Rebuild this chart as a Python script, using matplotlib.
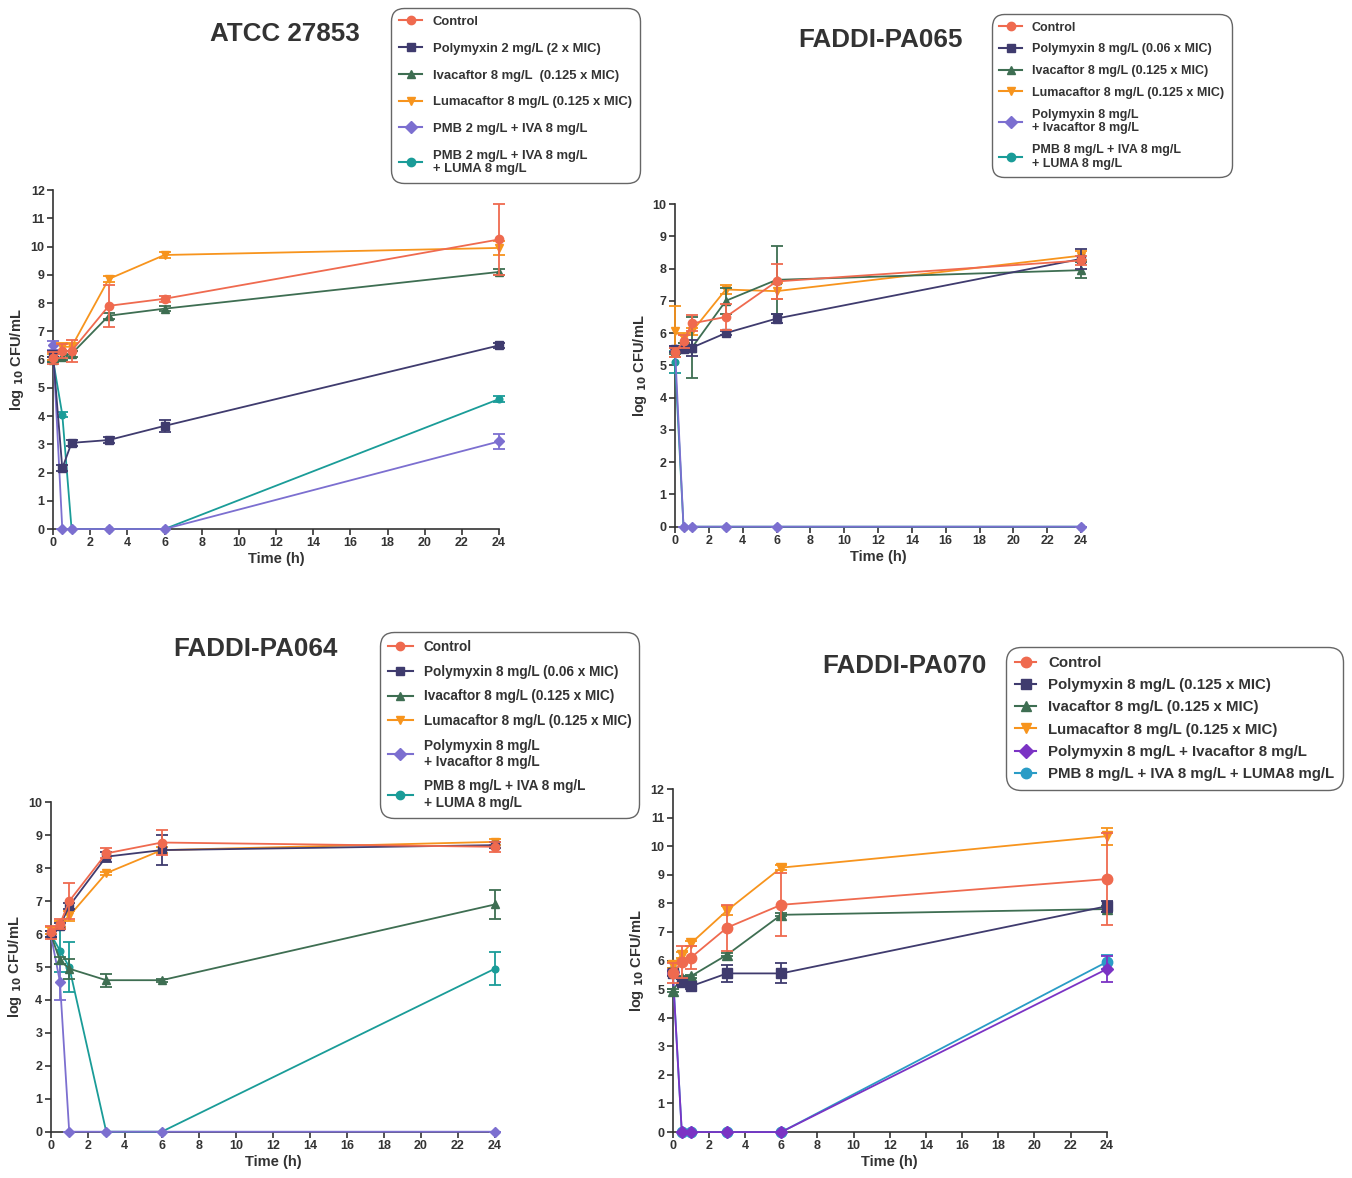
import numpy as np
import matplotlib
matplotlib.use('Agg')
import matplotlib.pyplot as plt
from matplotlib.lines import Line2D

plt.rcParams['font.family'] = ['Liberation Sans', 'DejaVu Sans']
plt.rcParams['font.weight'] = 'bold'

t = [0, 0.5, 1, 3, 6, 24]

# ATCC 27853
atcc_ctrl = [6.05, 6.3, 6.3, 7.9, 8.15, 10.25]
atcc_ctrl_err = [0.2, 0.25, 0.4, 0.75, 0.1, 1.25]
atcc_pmb = [6.2, 2.15, 3.05, 3.15, 3.65, 6.5]
atcc_pmb_err = [0.1, 0.1, 0.1, 0.1, 0.2, 0.1]
atcc_iva = [6.0, 6.1, 6.2, 7.55, 7.8, 9.1]
atcc_iva_err = [0.1, 0.1, 0.1, 0.1, 0.1, 0.1]
atcc_luma = [6.1, 6.45, 6.45, 8.85, 9.7, 9.95]
atcc_luma_err = [0.1, 0.15, 0.15, 0.1, 0.1, 0.25]
atcc_pmbiva = [6.5, 0, 0, 0, 0, 3.1]
atcc_pmbiva_err = [0.15, 0, 0, 0, 0, 0.25]
atcc_triple = [6.0, 4.05, 0, 0, 0, 4.6]
atcc_triple_err = [0.1, 0.1, 0, 0, 0, 0.1]

# FADDI-PA065
pa065_ctrl = [5.4, 5.75, 6.3, 6.5, 7.6, 8.25]
pa065_ctrl_err = [0.15, 0.2, 0.25, 0.4, 0.55, 0.15]
pa065_pmb = [5.5, 5.5, 5.55, 6.0, 6.45, 8.3]
pa065_pmb_err = [0.1, 0.1, 0.25, 0.05, 0.15, 0.3]
pa065_iva = [5.45, 5.6, 5.55, 7.0, 7.65, 7.95]
pa065_iva_err = [0.1, 0.1, 0.95, 0.4, 1.05, 0.25]
pa065_luma = [6.05, 5.85, 6.05, 7.35, 7.3, 8.4]
pa065_luma_err = [0.8, 0.15, 0.1, 0.15, 0.25, 0.15]
pa065_pmbiva = [5.5, 0, 0, 0, 0, 0]
pa065_pmbiva_err = [0.1, 0, 0, 0, 0, 0]
pa065_triple = [5.1, 0, 0, 0, 0, 0]
pa065_triple_err = [0.35, 0, 0, 0, 0, 0]

# FADDI-PA064
pa064_ctrl = [6.05, 6.3, 7.0, 8.45, 8.78, 8.65]
pa064_ctrl_err = [0.2, 0.15, 0.55, 0.15, 0.38, 0.15]
pa064_pmb = [6.0, 6.25, 6.85, 8.35, 8.55, 8.7]
pa064_pmb_err = [0.1, 0.1, 0.1, 0.15, 0.45, 0.1]
pa064_iva = [6.0, 5.2, 4.95, 4.6, 4.6, 6.9]
pa064_iva_err = [0.1, 0.1, 0.3, 0.2, 0.05, 0.45]
pa064_luma = [6.1, 6.3, 6.55, 7.85, 8.55, 8.8]
pa064_luma_err = [0.1, 0.1, 0.15, 0.05, 0.1, 0.1]
pa064_pmbiva = [6.0, 4.55, 0, 0, 0, 0]
pa064_pmbiva_err = [0.1, 0.55, 0, 0, 0, 0]
pa064_triple = [6.0, 5.5, 5.0, 0, 0, 4.95]
pa064_triple_err = [0.1, 0.65, 0.75, 0, 0, 0.5]

# FADDI-PA070
pa070_ctrl = [5.55, 5.95, 6.1, 7.15, 7.95, 8.85]
pa070_ctrl_err = [0.35, 0.55, 0.4, 0.8, 1.1, 1.6]
pa070_pmb = [5.55, 5.25, 5.1, 5.55, 5.55, 7.9]
pa070_pmb_err = [0.1, 0.1, 0.1, 0.3, 0.35, 0.2]
pa070_iva = [4.95, 5.4, 5.45, 6.2, 7.6, 7.8]
pa070_iva_err = [0.05, 0.05, 0.05, 0.05, 0.05, 0.1]
pa070_luma = [5.85, 6.2, 6.6, 7.75, 9.25, 10.35]
pa070_luma_err = [0.1, 0.1, 0.1, 0.15, 0.1, 0.3]
pa070_pmbiva = [5.6, 0, 0, 0, 0, 5.7]
pa070_pmbiva_err = [0.1, 0, 0, 0, 0, 0.45]
pa070_triple = [5.65, 0, 0, 0, 0, 5.95]
pa070_triple_err = [0.1, 0, 0, 0, 0, 0.25]

labels_atcc = ['Control', 'Polymyxin 2 mg/L (2 x MIC)', 'Ivacaftor 8 mg/L  (0.125 x MIC)',
               'Lumacaftor 8 mg/L (0.125 x MIC)', 'PMB 2 mg/L + IVA 8 mg/L',
               'PMB 2 mg/L + IVA 8 mg/L\n+ LUMA 8 mg/L']
labels_065 = ['Control', 'Polymyxin 8 mg/L (0.06 x MIC)', 'Ivacaftor 8 mg/L (0.125 x MIC)',
              'Lumacaftor 8 mg/L (0.125 x MIC)', 'Polymyxin 8 mg/L\n+ Ivacaftor 8 mg/L',
              'PMB 8 mg/L + IVA 8 mg/L\n+ LUMA 8 mg/L']
labels_064 = ['Control', 'Polymyxin 8 mg/L (0.06 x MIC)', 'Ivacaftor 8 mg/L (0.125 x MIC)',
              'Lumacaftor 8 mg/L (0.125 x MIC)', 'Polymyxin 8 mg/L\n+ Ivacaftor 8 mg/L',
              'PMB 8 mg/L + IVA 8 mg/L\n+ LUMA 8 mg/L']
labels_070 = ['Control', 'Polymyxin 8 mg/L (0.125 x MIC)', 'Ivacaftor 8 mg/L (0.125 x MIC)',
              'Lumacaftor 8 mg/L (0.125 x MIC)', 'Polymyxin 8 mg/L + Ivacaftor 8 mg/L',
              'PMB 8 mg/L + IVA 8 mg/L + LUMA8 mg/L']

cols = ['#ef6a4f', '#3f3b6e', '#3e6e52', '#f7941d', '#7c6fd0', '#1a9c98']
cols4 = ['#ef6a4f', '#3f3b6e', '#3e6e52', '#f7941d', '#7b33c4', '#2a9cc6']
marks = ['o', 's', '^', 'v', 'D', 'o']


def panel(fig, rect, ys, errs, title, title_xy, labels, leg_xy, ymax, colors,
          ms=6, fs=9.3, lspace=1.0, hlen=1.8):
    ax = fig.add_axes(rect)
    for i in range(len(ys) - 1, -1, -1):
        msz = ms * 0.85 if marks[i] == 'D' else ms
        if i == 5:
            msz = ms * 0.8 if colors is cols else ms
        ax.errorbar(t, ys[i], yerr=errs[i], color=colors[i], marker=marks[i],
                    markersize=msz, lw=1.3, capsize=4, capthick=1.3, elinewidth=1.3,
                    clip_on=False, zorder=3 + (5 - i))
    ax.set_xlim(0, 24)
    ax.set_ylim(0, ymax)
    ax.set_xticks(np.arange(0, 25, 2))
    ax.set_yticks(np.arange(0, ymax + 1, 1))
    for s in ['top', 'right']:
        ax.spines[s].set_visible(False)
    for s in ['left', 'bottom']:
        ax.spines[s].set_color('#333333')
        ax.spines[s].set_linewidth(1.2)
    ax.tick_params(labelsize=9, width=1.2, length=4, color='#333333', pad=2)
    for lab in ax.get_xticklabels() + ax.get_yticklabels():
        lab.set_fontweight('bold')
        lab.set_color('#333333')
    ax.set_xlabel('Time (h)', fontsize=10.5, fontweight='bold', color='#333333', labelpad=2)
    ax.set_ylabel('log $_{10}$ CFU/mL', fontsize=10.5, fontweight='bold', color='#333333', labelpad=3)
    fig.text(title_xy[0], title_xy[1], title, fontsize=18.7, fontweight='bold',
             color='#333333', ha='center', va='center')
    handles = [Line2D([0], [0], color=colors[i], marker=marks[i], markersize=ms,
                      lw=1.5) for i in range(6)]
    leg = fig.legend(handles, labels, loc='upper left', bbox_to_anchor=leg_xy,
                     prop={'size': fs, 'weight': 'bold'}, fancybox=True, framealpha=1,
                     edgecolor='#666666', labelspacing=lspace, handlelength=hlen,
                     borderpad=0.6, handletextpad=0.8, labelcolor='#333333',
                     borderaxespad=0)
    leg.get_frame().set_boxstyle('round', pad=0, rounding_size=1.0)
    leg.get_frame().set_linewidth(1.0)
    return ax


fig = plt.figure(figsize=(13.52, 11.78), dpi=100)

panel(fig, [0.0392, 0.5509, 0.3299, 0.2878],
      [atcc_ctrl, atcc_pmb, atcc_iva, atcc_luma, atcc_pmbiva, atcc_triple],
      [atcc_ctrl_err, atcc_pmb_err, atcc_iva_err, atcc_luma_err, atcc_pmbiva_err, atcc_triple_err],
      'ATCC 27853', (0.211, 0.971), labels_atcc, (0.2892, 0.9932), 12, cols,
      fs=9.4, lspace=1.12)

panel(fig, [0.4993, 0.5529, 0.3003, 0.2739],
      [pa065_ctrl, pa065_pmb, pa065_iva, pa065_luma, pa065_pmbiva, pa065_triple],
      [pa065_ctrl_err, pa065_pmb_err, pa065_iva_err, pa065_luma_err, pa065_pmbiva_err, pa065_triple_err],
      'FADDI-PA065', (0.651, 0.966), labels_065, (0.7337, 0.9881), 10, cols,
      fs=9.0, lspace=0.78)

panel(fig, [0.0375, 0.0393, 0.3286, 0.2796],
      [pa064_ctrl, pa064_pmb, pa064_iva, pa064_luma, pa064_pmbiva, pa064_triple],
      [pa064_ctrl_err, pa064_pmb_err, pa064_iva_err, pa064_luma_err, pa064_pmbiva_err, pa064_triple_err],
      'FADDI-PA064', (0.189, 0.449), labels_064, (0.2811, 0.4635), 10, cols,
      fs=9.8, lspace=0.78)

panel(fig, [0.4976, 0.0390, 0.3210, 0.2912],
      [pa070_ctrl, pa070_pmb, pa070_iva, pa070_luma, pa070_pmbiva, pa070_triple],
      [pa070_ctrl_err, pa070_pmb_err, pa070_iva_err, pa070_luma_err, pa070_pmbiva_err, pa070_triple_err],
      'FADDI-PA070', (0.669, 0.435), labels_070, (0.7441, 0.4508), 12, cols4,
      ms=7.5, fs=10.8, lspace=0.55, hlen=1.4)

fig.savefig('out.png', dpi=100)
